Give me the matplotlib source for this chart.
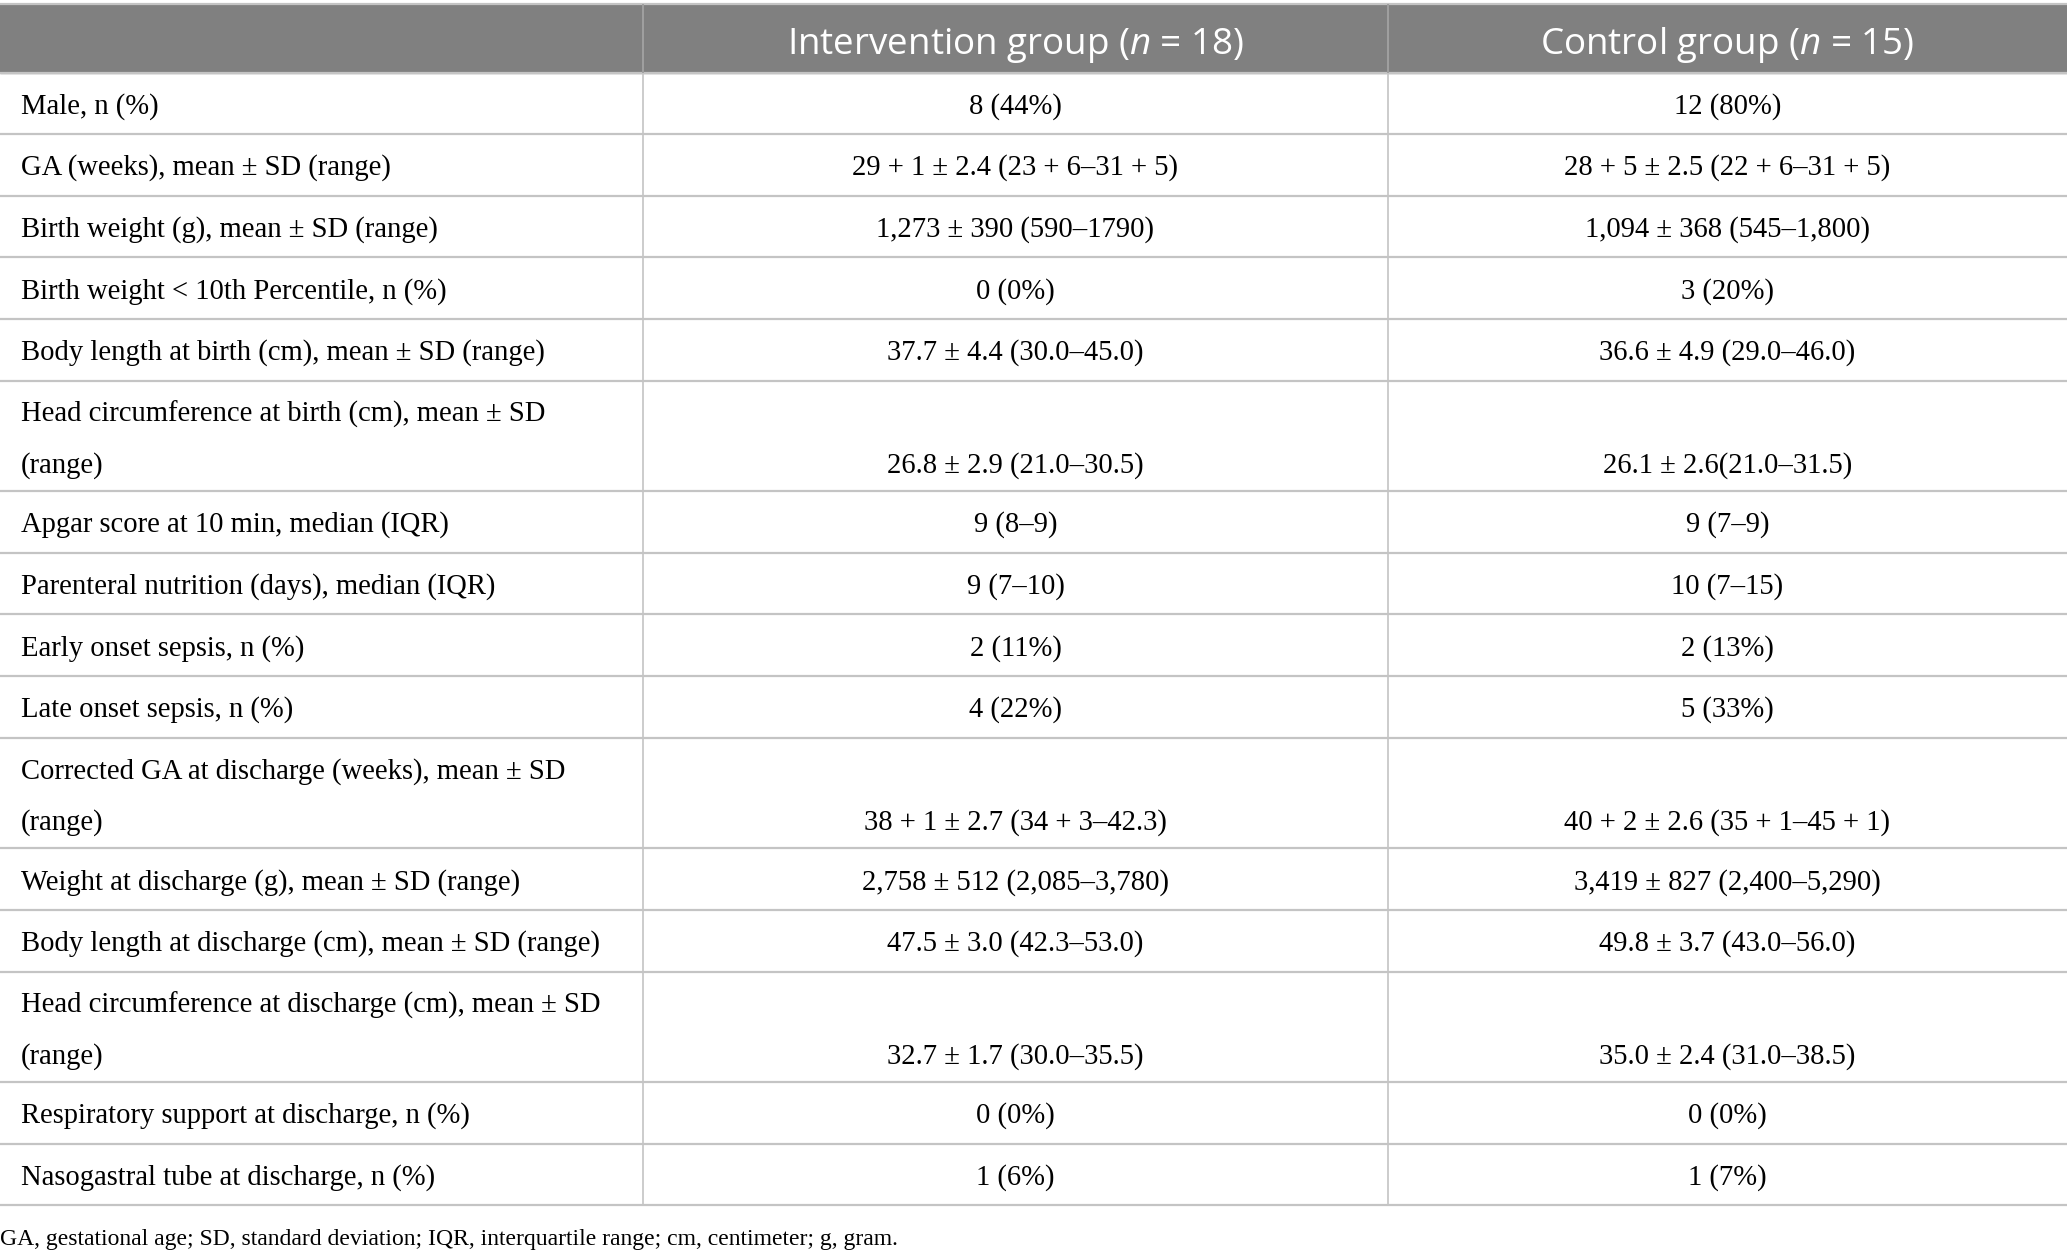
import matplotlib
matplotlib.use("Agg")
import matplotlib.pyplot as plt
from matplotlib.patches import Rectangle

# table content
columnas = ["", "Intervention group ($n$ = 18)", "Control group ($n$ = 15)"]
filas = [
    "Male, n (%)",
    "GA (weeks), mean ± SD (range)",
    "Birth weight (g), mean ± SD (range)",
    "Birth weight < 10th Percentile, n (%)",
    "Body length at birth (cm), mean ± SD (range)",
    "Head circumference at birth (cm), mean ± SD\n(range)",
    "Apgar score at 10 min, median (IQR)",
    "Parenteral nutrition (days), median (IQR)",
    "Early onset sepsis, n (%)",
    "Late onset sepsis, n (%)",
    "Corrected GA at discharge (weeks), mean ± SD\n(range)",
    "Weight at discharge (g), mean ± SD (range)",
    "Body length at discharge (cm), mean ± SD (range)",
    "Head circumference at discharge (cm), mean ± SD\n(range)",
    "Respiratory support at discharge, n (%)",
    "Nasogastral tube at discharge, n (%)",
]
intervencion = [
    "8 (44%)",
    "29 + 1 ± 2.4 (23 + 6–31 + 5)",
    "1,273 ± 390 (590–1790)",
    "0 (0%)",
    "37.7 ± 4.4 (30.0–45.0)",
    "26.8 ± 2.9 (21.0–30.5)",
    "9 (8–9)",
    "9 (7–10)",
    "2 (11%)",
    "4 (22%)",
    "38 + 1 ± 2.7 (34 + 3–42.3)",
    "2,758 ± 512 (2,085–3,780)",
    "47.5 ± 3.0 (42.3–53.0)",
    "32.7 ± 1.7 (30.0–35.5)",
    "0 (0%)",
    "1 (6%)",
]
control = [
    "12 (80%)",
    "28 + 5 ± 2.5 (22 + 6–31 + 5)",
    "1,094 ± 368 (545–1,800)",
    "3 (20%)",
    "36.6 ± 4.9 (29.0–46.0)",
    "26.1 ± 2.6(21.0–31.5)",
    "9 (7–9)",
    "10 (7–15)",
    "2 (13%)",
    "5 (33%)",
    "40 + 2 ± 2.6 (35 + 1–45 + 1)",
    "3,419 ± 827 (2,400–5,290)",
    "49.8 ± 3.7 (43.0–56.0)",
    "35.0 ± 2.4 (31.0–38.5)",
    "0 (0%)",
    "1 (7%)",
]
nota = ("GA, gestational age; SD, standard deviation; IQR, interquartile range; "
        "cm, centimeter; g, gram.")

plt.rcParams["mathtext.fontset"] = "custom"
plt.rcParams["mathtext.rm"] = "Open Sans"
plt.rcParams["mathtext.it"] = "Open Sans:italic"

W, H = 2067, 1257
fig = plt.figure(figsize=(W / 100, H / 100), dpi=100)
ax = fig.add_axes([0, 0, 1, 1])
ax.set_xlim(0, W)
ax.set_ylim(H, 0)
ax.axis("off")

linea = "#c4c4c4"
gris = "#808080"
x_cols = [0, 643, 1388, W]
y_top = 4
y_head = 72.5
h_simple = 61.6
h_doble = 110.7
serif = ["Liberation Serif", "DejaVu Serif"]
fs = 20.6
dy = 3

# header
ax.add_patch(Rectangle((0, y_top), W, y_head - y_top, color=gris, zorder=1))
for i in (1, 2):
    xc = (x_cols[i] + x_cols[i + 1]) / 2
    ax.text(xc, (y_top + y_head) / 2 + 7, columnas[i], ha="center", va="center",
            color="white", fontsize=26.5, family="Open Sans", zorder=3)

# rows
y = y_head
lineas_y = [y_top, y_head]
for fila, a, b in zip(filas, intervencion, control):
    doble = "\n" in fila
    h = h_doble if doble else h_simple
    if doble:
        l1, l2 = fila.split("\n")
        y1 = y + 30.5 + dy
        y2 = y + h - 29 + dy
        ax.text(21, y1, l1, ha="left", va="center", fontsize=fs, family=serif)
        ax.text(21, y2, l2, ha="left", va="center", fontsize=fs, family=serif)
        yv = y2
    else:
        yv = y + h / 2 + dy
        ax.text(21, yv, fila, ha="left", va="center", fontsize=fs, family=serif)
    for i, val in ((1, a), (2, b)):
        xc = (x_cols[i] + x_cols[i + 1]) / 2
        ax.text(xc, yv, val, ha="center", va="center", fontsize=fs, family=serif)
    y += h
    lineas_y.append(y)

ax.hlines(lineas_y, 0, W, color=linea, linewidth=1.6, zorder=2)
ax.vlines(x_cols[1:3], y_top, y, color=linea, linewidth=1.2, zorder=2)
ax.vlines(x_cols[1:3], y_top, y_head, color="#9a9a9a", linewidth=1.2, zorder=2)

ax.text(0, 1240, nota, ha="left", va="center", fontsize=17, family=serif)

fig.savefig("out.png", dpi=100)
